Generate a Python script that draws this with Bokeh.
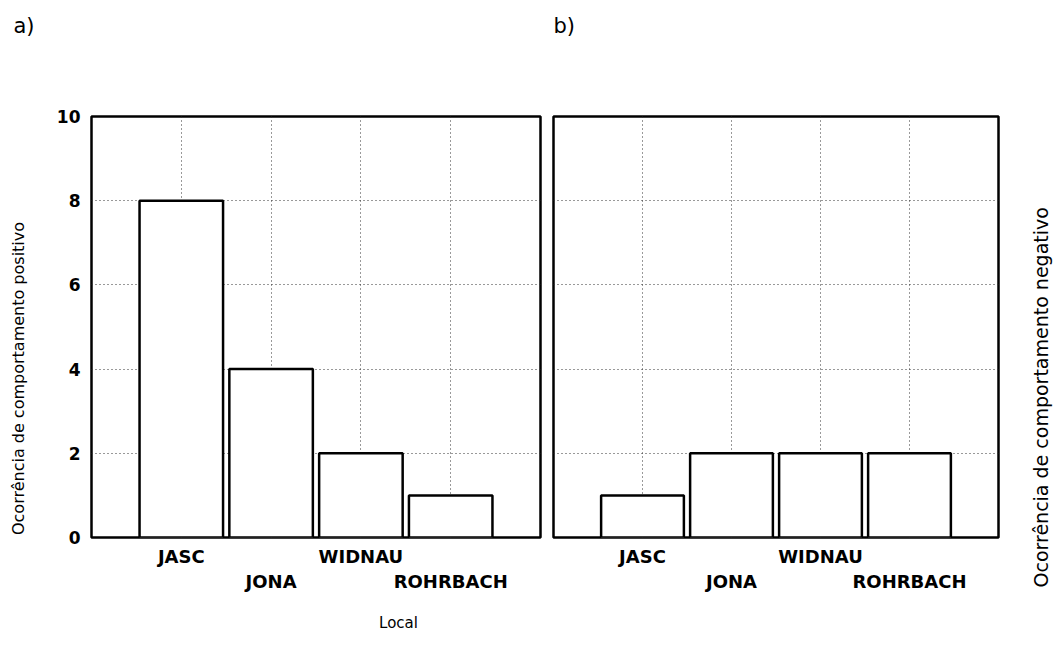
import math
from bokeh.plotting import figure
from bokeh.layouts import row, column
from bokeh.models import Range1d, FixedTicker, Grid, LinearAxis, Title
from bokeh.core.properties import value
from bokeh.embed import file_html
from bokeh.resources import INLINE

# ---- data ----
categories = ["JASC", "JONA", "WIDNAU", "ROHRBACH"]
positive = [8, 4, 2, 1]
negative = [1, 2, 2, 2]
y_ticks = [0, 2, 4, 6, 8, 10]
ylabel_pos = "Ocorrência de comportamento positivo"
ylabel_neg = "Ocorrência de comportamento negativo"
xlabel = "Local"
panel_tags = ["a)", "b)"]

FONT = "DejaVu Sans"
xpos = [i + 1 for i in range(len(categories))]

W, H = 1053, 658
TOP_H = 90          # header strip
BOT_H = 58          # footer strip
MID_H = H - TOP_H - BOT_H
FRAME_TOP, FRAME_BOT = 116, 537


def blank(width, height, xr, yr, bl=0):
    p = figure(width=width, height=height, output_backend="svg",
               toolbar_location=None, x_range=Range1d(*xr),
               y_range=Range1d(*yr), x_axis_location=None,
               y_axis_location=None, min_border_left=bl, min_border_right=0,
               min_border_top=0, min_border_bottom=0)
    p.outline_line_color = None
    p.background_fill_color = "white"
    p.border_fill_color = "white"
    p.xgrid.visible = False
    p.ygrid.visible = False
    return p


def make_panel(vals, width, bl, br, show_yaxis):
    p = figure(width=width, height=MID_H, output_backend="svg",
               toolbar_location=None,
               x_range=Range1d(0, 5), y_range=Range1d(0, 10),
               x_axis_location=None,
               y_axis_location="left" if show_yaxis else None,
               min_border_left=bl, min_border_right=br,
               min_border_top=FRAME_TOP - TOP_H,
               min_border_bottom=TOP_H + MID_H - FRAME_BOT)
    p.outline_line_color = "black"
    p.outline_line_width = 2.5
    p.background_fill_color = "white"
    p.border_fill_color = "white"
    p.xgrid.visible = False
    p.ygrid.visible = False
    p.add_layout(Grid(dimension=0, ticker=FixedTicker(ticks=xpos),
                      grid_line_color="#333333", grid_line_width=1,
                      grid_line_dash="1 3"))
    p.add_layout(Grid(dimension=1, ticker=FixedTicker(ticks=y_ticks[1:-1]),
                      grid_line_color="#333333", grid_line_width=1,
                      grid_line_dash="1 3"))
    p.vbar(x=xpos, top=vals, bottom=0, width=0.93,
           fill_color="white", line_color="black", line_width=2.5)
    if show_yaxis:
        ax = p.yaxis[0]
        ax.ticker = FixedTicker(ticks=y_ticks)
        ax.major_tick_line_color = None
        ax.major_tick_out = 0
        ax.major_tick_in = 0
        ax.minor_tick_line_color = None
        ax.axis_line_color = None
        ax.major_label_standoff = 11
        ax.major_label_text_font = FONT
        ax.major_label_text_font_style = "bold"
        ax.major_label_text_font_size = "17px"
        ax.major_label_text_color = "black"
    # staggered category labels: two stacked bottom axes
    for start, standoff in ((0, 8), (1, 1)):
        idx = list(range(start, len(categories), 2))
        ax = LinearAxis(ticker=FixedTicker(ticks=[xpos[i] for i in idx]),
                        major_label_overrides={xpos[i]: categories[i]
                                               for i in idx})
        ax.major_tick_line_color = None
        ax.major_tick_out = 0
        ax.major_tick_in = 0
        ax.minor_tick_line_color = None
        ax.minor_tick_out = 0
        ax.axis_line_color = None
        ax.major_label_standoff = standoff
        ax.major_label_text_font = FONT
        ax.major_label_text_font_style = "bold"
        ax.major_label_text_font_size = "18px"
        ax.major_label_text_color = "black"
        p.add_layout(ax, "below")
    return p


# header with panel tags
head = blank(W, TOP_H, (0, W), (-TOP_H, 0))
head.text(x=[13, 553], y=[-25, -25], text=panel_tags, text_align="left",
          text_baseline="middle", text_font=value(FONT),
          text_font_size=value("21px"), text_color="black")

# left title strip (its frame is aligned with the panels' frames)
LW = 40
left = blank(LW, MID_H, (0, LW), (-FRAME_BOT, -FRAME_TOP))
left.text(x=[18], y=[-378], text=[ylabel_pos], angle=math.pi / 2,
          text_align="center", text_baseline="middle",
          text_font=value(FONT), text_font_size=value("16px"),
          text_color="black")

pa = make_panel(positive, 547 - LW, 91 - LW, 7, True)
pb = make_panel(negative, 1010 - 547, 6, 12, False)

# right title strip: rotated title reading bottom-to-top
right = blank(W - 1010, MID_H, (0, 1), (0, 1), bl=42)
right.add_layout(Title(text=ylabel_neg, align="left", offset=-50,
                       standoff=0, vertical_align="middle",
                       text_font=FONT, text_font_size="19px",
                       text_font_style="normal", text_color="black"),
                 "left")

foot = blank(W, BOT_H, (0, W), (-H, -(H - BOT_H)))
foot.text(x=[398], y=[-622], text=[xlabel], text_align="center",
          text_baseline="middle", text_font=value(FONT),
          text_font_size=value("15px"), text_color="black")

layout = column(head, row(left, pa, pb, right), foot)
open("out.html", "w").write(file_html(layout, INLINE))
